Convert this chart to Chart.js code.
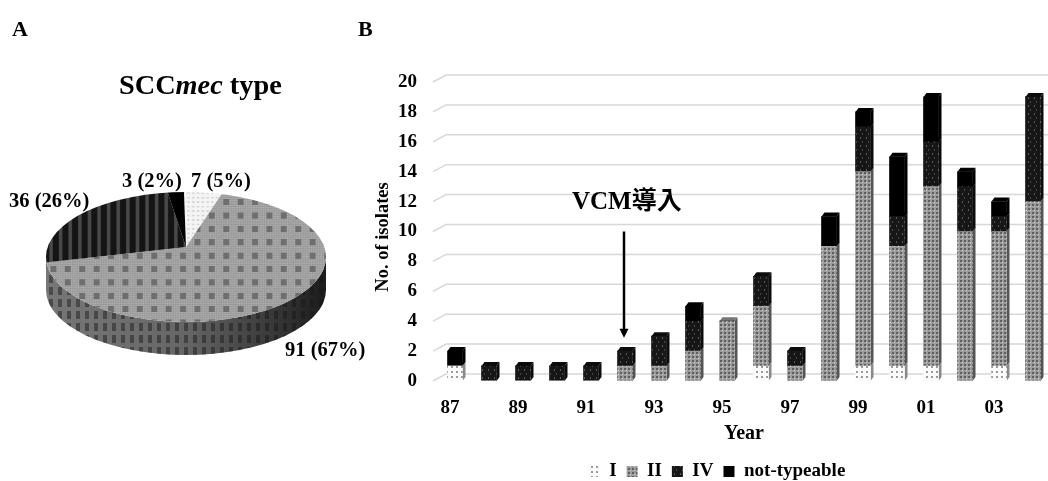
<!DOCTYPE html>
<html>
<head>
<meta charset="utf-8">
<script src="https://cdn.jsdelivr.net/npm/chart.js@4"></script>
<style>
html, body { margin: 0; padding: 0; background: #fff; overflow: hidden; }
#page { position: relative; width: 1048px; height: 481px; overflow: hidden; filter: blur(0.7px); }
canvas { position: absolute; }
.txt { position: absolute; font-family: "Liberation Serif", serif; font-weight: bold; color: #000; white-space: nowrap; line-height: 1; }
</style>
</head>
<body>
<div id="page">
    <canvas id="barChart" width="726" height="491" style="left:360px;top:0"></canvas>
    <canvas id="pieChart" width="280" height="280" style="left:46px;top:117px"></canvas>
    <div class="txt" style="left:12px;top:18px;font-size:22px">A</div>
    <div class="txt" style="left:358px;top:18px;font-size:22px">B</div>
    <div class="txt" style="left:119px;top:71px;font-size:28.3px">SCC<i>mec</i> type</div>
    <div class="txt" style="left:572px;top:186px;font-size:25px">VCM<span style="font-family:'Noto Sans CJK JP'">導入</span></div>
    <div class="txt" style="left:382px;top:237px;font-size:18.5px;transform:translate(-50%,-50%) rotate(-90deg)">No. of isolates</div>
</div>

<script>
// Bar chart data
const years = ['87', '88', '89', '90', '91', '92', '93', '94', '95', '96', '97', '98', '99', '00', '01', '02', '03', '04'];
const typeI = [1, 0, 0, 0, 0, 0, 0, 0, 0, 1, 0, 0, 1, 1, 1, 0, 1, 0];
const typeII = [0, 0, 0, 0, 0, 1, 1, 2, 4, 4, 1, 9, 13, 8, 12, 10, 9, 12];
const typeIV = [0, 1, 1, 1, 1, 1, 2, 2, 0, 2, 1, 0, 3, 2, 3, 3, 1, 7];
const notTypeable = [1, 0, 0, 0, 0, 0, 0, 1, 0, 0, 0, 2, 1, 4, 3, 1, 1, 0];
const yearTicks = [0, 2, 4, 6, 8, 10, 12, 14, 16, 18, 20];

// Pie chart data
const pieTypes = ['I', 'II', 'IV', 'not-typeable'];
const pieCounts = [7, 91, 36, 3];
const piePercents = [5, 67, 26, 2];

// Arrow start and end on the y axis, pointing at 1992
const arrowYear = '92';
const arrowValues = [10, 2.9];

const serif = '"Liberation Serif", serif';

// Small tile used as a fill pattern
function makePattern(w, h, paint) {
    const c = document.createElement('canvas');
    c.width = w;
    c.height = h;
    paint(c.getContext('2d'));
    return c.getContext('2d').createPattern(c, 'repeat');
}

function rect(g, color, x, y, w, h) {
    g.fillStyle = color;
    g.fillRect(x, y, w, h);
}

// Bar fills
const barFillI = makePattern(5, 5, g => {
    rect(g, '#fbfbfb', 0, 0, 5, 5);
    rect(g, '#9a9a9a', 1, 1, 2, 2);
});
const barFillII = makePattern(4, 4, g => {
    rect(g, '#9c9c9c', 0, 0, 4, 4);
    rect(g, '#5f5f5f', 0, 0, 2, 2);
    rect(g, '#d2d2d2', 2, 2, 1, 1);
});
const barFillIV = makePattern(6, 8, g => {
    rect(g, '#161616', 0, 0, 6, 8);
    rect(g, '#5a5a5a', 2, 1, 1, 2);
    rect(g, '#484848', 4, 5, 1, 2);
});
const barFillNT = '#000000';

// Pie fills (stretched by the tilt of the pie)
const pieFillI = makePattern(4, 8, g => {
    rect(g, '#f4f4f4', 0, 0, 4, 8);
    rect(g, '#d6d6d6', 1, 2, 2, 3);
});
const pieFillII = makePattern(12, 24, g => {
    rect(g, '#9b9b9b', 0, 0, 12, 24);
    for (let x = 0; x < 12; x += 2) {
        for (let y = 0; y < 24; y += 4) rect(g, '#b4b4b4', x, y, 1, 2);
    }
    rect(g, '#6e6e6e', 3, 6, 5, 11);
});
const pieFillIV = makePattern(8, 8, g => {
    rect(g, '#141414', 0, 0, 8, 8);
    rect(g, '#484848', 2, 0, 3, 8);
});
const pieFillNT = '#000000';
const pieSideFill = makePattern(9, 12, g => {
    g.clearRect(0, 0, 9, 12);
    rect(g, 'rgba(20,20,20,0.45)', 3, 2, 4, 8);
});

// 3D look for the pie: squash the arcs and add a side band under them.
// The tip of the pie sits above the middle of the ellipse, like in a perspective view,
// so the arcs are drawn a bit larger and cut to the ellipse.
const pieTilt = 65 / 140;
const pieDepth = 33;
const pieTipShift = 10;
const pieZoom = 1.2;
const pie3d = {
    id: 'pie3d',
    beforeDatasetsDraw(chart) {
        const ctx = chart.ctx;
        const arc = chart.getDatasetMeta(0).data[0];
        const rx = arc.outerRadius;
        const ry = rx * pieTilt;
        const shade = ctx.createLinearGradient(arc.x - rx, 0, arc.x + rx, 0);
        shade.addColorStop(0, '#777777');
        shade.addColorStop(0.5, '#666666');
        shade.addColorStop(0.8, '#3a3a3a');
        shade.addColorStop(1, '#1c1c1c');
        ctx.save();
        ctx.beginPath();
        ctx.ellipse(arc.x, arc.y, rx, ry, 0, 0, Math.PI);
        ctx.ellipse(arc.x, arc.y + pieDepth, rx, ry, 0, Math.PI, 0, true);
        ctx.closePath();
        ctx.fillStyle = shade;
        ctx.fill();
        ctx.fillStyle = pieSideFill;
        ctx.fill();
        ctx.restore();
    },
    beforeDatasetDraw(chart) {
        const ctx = chart.ctx;
        const arc = chart.getDatasetMeta(0).data[0];
        ctx.save();
        ctx.beginPath();
        ctx.ellipse(arc.x, arc.y, arc.outerRadius, arc.outerRadius * pieTilt, 0, 0, Math.PI * 2);
        ctx.clip();
        ctx.translate(arc.x, arc.y - pieTipShift);
        ctx.scale(pieZoom, pieZoom * pieTilt);
        ctx.translate(-arc.x, -arc.y);
    },
    afterDatasetDraw(chart) {
        chart.ctx.restore();
    }
};

new Chart(document.getElementById('pieChart'), {
    type: 'pie',
    data: {
        labels: pieTypes,
        datasets: [{
            data: pieCounts,
            backgroundColor: [pieFillI, pieFillII, pieFillIV, pieFillNT],
            borderWidth: 0
        }]
    },
    options: {
        responsive: false,
        animation: false,
        rotation: -1,
        plugins: { legend: { display: false }, tooltip: { enabled: false } }
    },
    plugins: [pie3d]
});

// Pie labels come from the data, only their places are set here
const pieLabelPlaces = [[191, 170], [285, 339], [9, 190], [122, 170]];
pieCounts.forEach((count, i) => {
    const label = document.createElement('div');
    label.className = 'txt';
    label.style.fontSize = '20.5px';
    label.style.left = pieLabelPlaces[i][0] + 'px';
    label.style.top = pieLabelPlaces[i][1] + 'px';
    label.textContent = `${count} (${piePercents[i]}%)`;
    document.getElementById('page').appendChild(label);
});

// Back wall grid lines, bar side faces and the arrow
const barDepthX = 3;
const barDepthY = 4;
const sideColors = ['#8a8a8a', '#555555', '#0c0c0c', '#000000'];
const topColors = ['#dddddd', '#777777', '#0c0c0c', '#000000'];

const bar3d = {
    id: 'bar3d',
    beforeDatasetsDraw(chart) {
        const ctx = chart.ctx;
        const yScale = chart.scales.y;
        const left = chart.chartArea.left;

        ctx.save();
        ctx.strokeStyle = '#d8d8d8';
        ctx.lineWidth = 1.5;
        yearTicks.forEach(v => {
            const y = yScale.getPixelForValue(v);
            ctx.beginPath();
            ctx.moveTo(left - 5, y);
            ctx.lineTo(left + 8, y - 7);
            ctx.lineTo(chart.width, y - 7);
            ctx.stroke();
        });

        chart.data.datasets.forEach((dataset, i) => {
            chart.getDatasetMeta(i).data.forEach((bar, j) => {
                if (!dataset.data[j]) return;
                const right = bar.x + bar.width / 2;
                const barLeft = bar.x - bar.width / 2;
                ctx.fillStyle = sideColors[i];
                ctx.beginPath();
                ctx.moveTo(right, bar.y);
                ctx.lineTo(right + barDepthX, bar.y - barDepthY);
                ctx.lineTo(right + barDepthX, bar.base - barDepthY);
                ctx.lineTo(right, bar.base);
                ctx.closePath();
                ctx.fill();
                ctx.fillStyle = topColors[i];
                ctx.beginPath();
                ctx.moveTo(barLeft, bar.y);
                ctx.lineTo(barLeft + barDepthX, bar.y - barDepthY);
                ctx.lineTo(right + barDepthX, bar.y - barDepthY);
                ctx.lineTo(right, bar.y);
                ctx.closePath();
                ctx.fill();
            });
        });
        ctx.restore();
    },
    afterDatasetsDraw(chart) {
        const ctx = chart.ctx;
        const x = chart.scales.x.getPixelForValue(years.indexOf(arrowYear)) - 1;
        const y0 = chart.scales.y.getPixelForValue(arrowValues[0]);
        const y1 = chart.scales.y.getPixelForValue(arrowValues[1]);
        ctx.save();
        ctx.strokeStyle = '#000';
        ctx.fillStyle = '#000';
        ctx.lineWidth = 2.5;
        ctx.beginPath();
        ctx.moveTo(x, y0);
        ctx.lineTo(x, y1 - 6);
        ctx.stroke();
        ctx.beginPath();
        ctx.moveTo(x - 4.5, y1 - 9);
        ctx.lineTo(x + 4.5, y1 - 9);
        ctx.lineTo(x, y1);
        ctx.closePath();
        ctx.fill();
        ctx.restore();
    }
};

const axisFont = { family: serif, weight: 'bold', size: 19 };

new Chart(document.getElementById('barChart'), {
    type: 'bar',
    data: {
        labels: years,
        datasets: [
            { label: 'I', data: typeI, backgroundColor: barFillI },
            { label: 'II', data: typeII, backgroundColor: barFillII },
            { label: 'IV', data: typeIV, backgroundColor: barFillIV },
            { label: 'not-typeable', data: notTypeable, backgroundColor: barFillNT }
        ]
    },
    options: {
        responsive: false,
        animation: false,
        barThickness: 15,
        layout: { padding: { top: 82, left: 24, right: 36, bottom: 0 } },
        scales: {
            x: {
                stacked: true,
                grid: { display: false },
                border: { display: false },
                afterFit: scale => { scale.height = 71; },
                ticks: {
                    color: '#000',
                    font: axisFont,
                    autoSkip: false,
                    maxRotation: 0,
                    labelOffset: -5,
                    padding: 8,
                    callback: (value, index) => (index % 2 === 0 ? years[index] : '')
                },
                title: { display: true, text: 'Year', color: '#000', font: { family: serif, weight: 'bold', size: 20 }, padding: { top: 2, bottom: 6 } }
            },
            y: {
                stacked: true,
                min: 0,
                max: 20,
                grid: { display: false },
                border: { display: false },
                afterFit: scale => { scale.width = 54; },
                ticks: { color: '#000', font: axisFont, stepSize: 2, padding: 13 }
            }
        },
        plugins: {
            tooltip: { enabled: false },
            legend: {
                position: 'bottom',
                labels: { color: '#000', font: { family: serif, weight: 'bold', size: 19 }, boxWidth: 11, boxHeight: 11, padding: 10 }
            }
        }
    },
    plugins: [bar3d]
});
</script>
</body>
</html>
